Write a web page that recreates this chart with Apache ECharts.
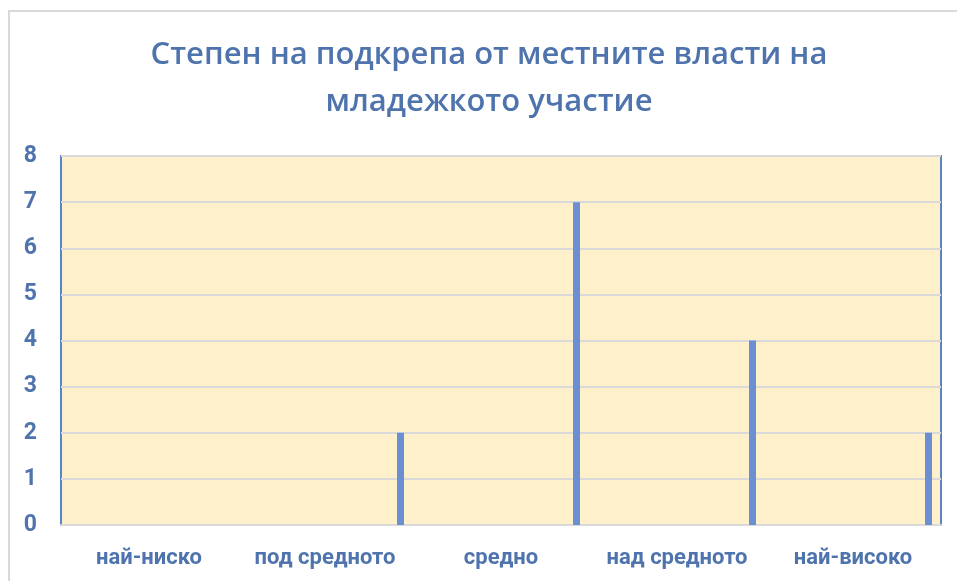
<!DOCTYPE html>
<html>
<head>
<meta charset="utf-8">
<script src="https://cdn.jsdelivr.net/npm/echarts@6/dist/echarts.min.js"></script>
<style>
  html, body { margin: 0; padding: 0; background: #fff; }
  #chart { width: 957px; height: 581px; }
</style>
</head>
<body>
<div id="chart"></div>
<script>
// data
var categories = ["най-ниско", "под средното", "средно", "над средното", "най-високо"];
var values = [0, 2, 7, 4, 2];
var spacer = [0, 0, 0, 0, 0];
var yTicks = [0, 1, 2, 3, 4, 5, 6, 7, 8];

var blue = "#4f74ad";
var chart = echarts.init(document.getElementById("chart"));

chart.setOption({
  animation: false,
  textStyle: { fontFamily: "Roboto" },
  title: {
    text: "Степен на подкрепа от местните власти на\nмладежкото участие",
    left: 484,
    textAlign: "center",
    top: 27,
    padding: 5,
    textStyle: {
      fontFamily: "Open Sans",
      fontSize: 31,
      fontWeight: 600,
      color: blue,
      lineHeight: 47
    }
  },
  graphic: [{
    type: "rect",
    shape: { x: 9, y: 11, width: 1000, height: 1000 },
    style: { fill: "none", stroke: "#d9d9d9", lineWidth: 2 },
    silent: true
  }],
  grid: {
    left: 61,
    right: 16,
    top: 156,
    bottom: 56,
    show: true,
    backgroundColor: "#fff0cc",
    borderColor: "#5b84c4",
    borderWidth: 2
  },
  xAxis: {
    type: "category",
    data: categories,
    axisTick: { show: false },
    axisLine: { lineStyle: { color: "#d9d9d9", width: 2 } },
    axisLabel: {
      interval: 0,
      color: blue,
      fontSize: 22,
      fontWeight: "bold",
      margin: 22
    }
  },
  yAxis: {
    type: "value",
    min: yTicks[0],
    max: yTicks[yTicks.length - 1],
    interval: 1,
    axisLine: { show: false },
    axisTick: { show: false },
    splitLine: { lineStyle: { color: "#d9d9d9", width: 2 } },
    axisLabel: {
      color: blue,
      fontSize: 23,
      fontWeight: "bold",
      margin: 24
    }
  },
  series: [
    {
      type: "bar",
      data: spacer,
      barWidth: 160,
      barGap: 0,
      barCategoryGap: 0,
      itemStyle: { opacity: 0 },
      silent: true
    },
    {
      type: "bar",
      data: values,
      barWidth: 7,
      barGap: 0,
      itemStyle: { color: "#6c8fd1" }
    },
    {
      type: "bar",
      data: spacer,
      barWidth: 9,
      barGap: 0,
      itemStyle: { opacity: 0 },
      silent: true
    }
  ]
});
</script>
</body>
</html>
